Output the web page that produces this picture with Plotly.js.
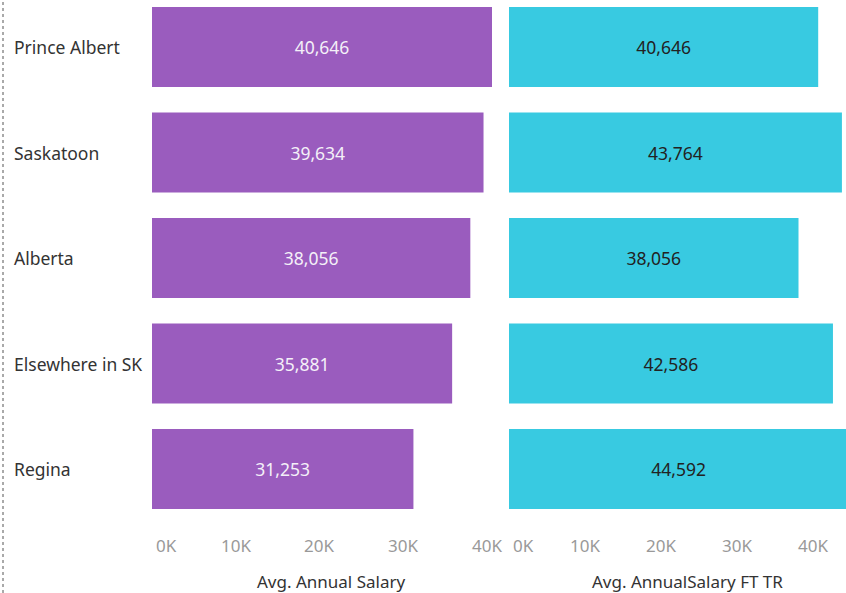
<!DOCTYPE html>
<html><head><meta charset="utf-8">
<script src="https://cdn.plot.ly/plotly-3.0.1.min.js"></script>
<style>html,body{margin:0;padding:0;background:#fff}#chart{width:846px;height:593px}</style>
</head><body><div id="chart"></div>
<script>
const categories = ["Prince Albert", "Saskatoon", "Alberta", "Elsewhere in SK", "Regina"];
const avgAnnualSalary = [40646, 39634, 38056, 35881, 31253];
const avgAnnualSalaryFTTR = [40646, 43764, 38056, 42586, 44592];
const tickValues = [0, 10000, 20000, 30000, 40000];
const tickLabels = ["0K", "10K", "20K", "30K", "40K"];
const leftTitle = "Avg. Annual Salary";
const rightTitle = "Avg. AnnualSalary FT TR";

const W = 846, H = 593;
const FONT = "'Noto Sans', 'Open Sans', sans-serif";
const yIdx = categories.map((c, i) => i);

const traces = [
  {type: 'bar', orientation: 'h', x: avgAnnualSalary, y: yIdx, xaxis: 'x', yaxis: 'y',
   marker: {color: '#9a5cbe'}, texttemplate: '%{x:,}', textposition: 'inside',
   insidetextanchor: 'middle', textfont: {color: '#f4f0f8', size: 17.5, family: FONT},
   hoverinfo: 'none'},
  {type: 'bar', orientation: 'h', x: avgAnnualSalaryFTTR, y: yIdx, xaxis: 'x2', yaxis: 'y',
   marker: {color: '#38cae1'}, texttemplate: '%{x:,}', textposition: 'inside',
   insidetextanchor: 'middle', textfont: {color: '#222222', size: 17.5, family: FONT},
   hoverinfo: 'none'}
];

const annotations = [];
categories.forEach((c, i) => {
  annotations.push({xref: 'paper', yref: 'y', x: 12 / W, y: i, text: c, showarrow: false,
    xanchor: 'left', yanchor: 'middle', font: {size: 17.5, color: '#333333', family: FONT}});
});
['x', 'x2'].forEach(ax => {
  tickValues.forEach((v, i) => {
    annotations.push({xref: ax, yref: 'paper', x: v, y: -25 / 520, text: tickLabels[i],
      showarrow: false, xanchor: i === 0 ? 'left' : 'center', xshift: i === 0 ? 2 : 0,
      yanchor: 'middle', font: {size: 17, color: '#999999', family: FONT}});
  });
});
annotations.push({xref: 'paper', yref: 'paper', x: 330.5 / W, y: -61 / 520, text: leftTitle,
  showarrow: false, xanchor: 'center', yanchor: 'middle', font: {size: 17, color: '#333333', family: FONT}});
annotations.push({xref: 'paper', yref: 'paper', x: 687 / W, y: -61 / 520, text: rightTitle,
  showarrow: false, xanchor: 'center', yanchor: 'middle', font: {size: 17, color: '#333333', family: FONT}});

const pitch = 105.5, c0 = 47, plotH = 520;
const layout = {
  width: W, height: H,
  margin: {l: 0, r: 0, t: 0, b: H - plotH, pad: 0},
  paper_bgcolor: '#ffffff', plot_bgcolor: '#ffffff',
  showlegend: false,
  bargap: 25.5 / 105.5,
  xaxis: {domain: [152 / W, 492 / W], range: [0, 40646], showgrid: false, zeroline: false,
    showticklabels: false, ticks: '', showline: false, fixedrange: true},
  xaxis2: {domain: [509 / W, 1], range: [0, 44300], showgrid: false, zeroline: false,
    showticklabels: false, ticks: '', showline: false, fixedrange: true},
  yaxis: {type: 'linear', range: [(plotH - c0) / pitch, -c0 / pitch], showgrid: false, zeroline: false,
    showticklabels: false, ticks: '', showline: false, fixedrange: true},
  annotations: annotations,
  shapes: [{type: 'line', xref: 'paper', yref: 'paper', x0: 3 / W, x1: 3 / W, y0: -73 / 520, y1: 1,
    line: {color: '#555555', width: 1, dash: 'dot'}}]
};
Plotly.newPlot('chart', traces, layout, {displayModeBar: false, staticPlot: true});
</script></body></html>
